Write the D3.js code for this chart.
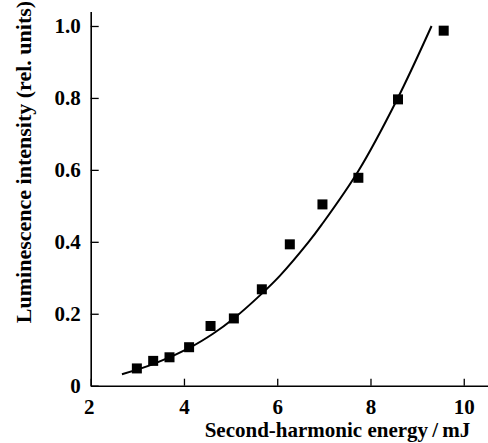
<!DOCTYPE html>
<html>
<head>
<meta charset="utf-8">
<script src="https://cdn.jsdelivr.net/npm/d3@7"></script>
<style>
  body { margin: 0; background: #fff; }
  svg { display: block; }
  text { font-family: 'Liberation Serif', 'Times New Roman', serif; font-weight: bold; }
</style>
</head>
<body>
<div id="chart"></div>
<script>
// measured points (second-harmonic energy, mJ / luminescence, rel. units)
const energy = [2.99, 3.34, 3.69, 4.11, 4.57, 5.07, 5.67, 6.27, 6.97, 7.74, 8.59, 9.57];
const intensity = [0.048, 0.069, 0.079, 0.107, 0.166, 0.187, 0.268, 0.393, 0.504, 0.578, 0.796, 0.987];

// fitted curve
const fitEnergy = [2.67, 3.34, 4.13, 4.63, 5.06, 5.67, 6.06, 6.67, 6.95, 7.74, 8.56, 9.31];
const fitIntensity = [0.032, 0.060, 0.106, 0.145, 0.186, 0.256, 0.306, 0.399, 0.447, 0.597, 0.793, 1.0];

const xTicks = [2, 4, 6, 8, 10];
const yTicks = [0, 0.2, 0.4, 0.6, 0.8, 1.0];

const W = 488, H = 443;
const MARGIN = { TOP: 11.6, RIGHT: 0, BOTTOM: 57.3, LEFT: 90.7 };
const FONT = 21;

const svg = d3.select('#chart')
  .append('svg')
  .attr('width', W)
  .attr('height', H);

const xScale = d3.scaleLinear()
  .domain([2, 10.52])
  .range([MARGIN.LEFT, W - MARGIN.RIGHT]);

const yScale = d3.scaleLinear()
  .domain([0, 1.04])
  .range([H - MARGIN.BOTTOM, MARGIN.TOP]);

// x axis, ticks pointing inwards
const xAxis = svg.append('g')
  .attr('transform', `translate(0, ${yScale(0)})`)
  .call(d3.axisBottom(xScale)
    .tickValues(xTicks)
    .tickSizeInner(-7)
    .tickSizeOuter(0)
    .tickPadding(13)
    .tickFormat(d3.format('d')));

// y axis
const yAxis = svg.append('g')
  .attr('transform', `translate(${xScale(2)}, 0)`)
  .call(d3.axisLeft(yScale)
    .tickValues(yTicks)
    .tickSizeInner(-8)
    .tickSizeOuter(0)
    .tickPadding(10)
    .tickFormat((d) => (d === 0 ? '0' : d3.format('.1f')(d))));

[xAxis, yAxis].forEach((ax) => {
  ax.select('.domain').attr('stroke', '#000').attr('stroke-width', 1.6);
  ax.selectAll('.tick line').attr('stroke', '#000').attr('stroke-width', 1.3);
  ax.selectAll('.tick text')
    .attr('fill', '#000')
    .style('font-size', FONT + 'px')
    .style('font-family', "'Liberation Serif', 'Times New Roman', serif")
    .style('font-weight', 'bold');
});
// the first x label sits under the corner
xAxis.selectAll('.tick text').filter((d) => d === 2).attr('x', -2);

// fit line
const fitData = fitEnergy.map((e, i) => ({ x: e, y: fitIntensity[i] }));
svg.append('path')
  .datum(fitData)
  .attr('fill', 'none')
  .attr('stroke', '#000')
  .attr('stroke-width', 2)
  .attr('d', d3.line()
    .x((d) => xScale(d.x))
    .y((d) => yScale(d.y))
    .curve(d3.curveCatmullRom));

// square markers
const S = 10;
svg.append('g')
  .selectAll('rect')
  .data(energy.map((e, i) => ({ x: e, y: intensity[i] })))
  .enter()
  .append('rect')
  .attr('x', (d) => xScale(d.x) - S / 2)
  .attr('y', (d) => yScale(d.y) - S / 2)
  .attr('width', S)
  .attr('height', S)
  .attr('fill', '#000');

// axis titles
svg.append('text')
  .attr('x', 337.5)
  .attr('y', 437)
  .attr('text-anchor', 'middle')
  .style('font-size', FONT + 'px')
  .text('Second-harmonic energy\u2009/\u2009mJ');

svg.append('text')
  .attr('transform', 'translate(31, 162) rotate(-90)')
  .attr('text-anchor', 'middle')
  .style('font-size', '22px')
  .text('Luminescence intensity (rel. units)');
</script>
</body>
</html>
